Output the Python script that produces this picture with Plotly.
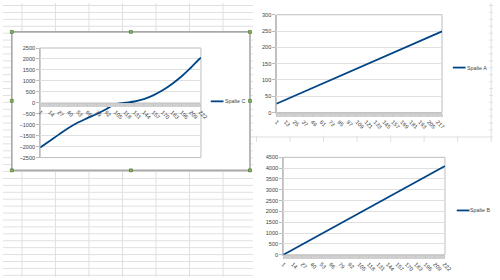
import plotly.graph_objects as go

# ---------------- data ----------------
n_cat = 223
# Spalte C (left chart), sampled at the labelled categories
c_x = [1, 14, 27, 40, 53, 66, 79, 92, 105, 118, 131, 144, 157, 170, 183, 196, 209, 222, 223]
c_y = [-2040, -1740, -1440, -1150, -900, -700, -510, -290, -60, 5, 60, 170, 340, 570, 860, 1200, 1600, 2030, 2045]
c_ticks = [1, 14, 27, 40, 53, 66, 79, 92, 105, 118, 131, 144, 157, 170, 183, 196, 209, 222]

# Spalte A (top right chart)
a_x = [1, 13, 25, 37, 49, 61, 73, 85, 97, 109, 121, 133, 145, 157, 169, 181, 193, 205, 217, 223]
a_y = [27, 39, 51, 63, 75, 87, 99, 111, 123, 135, 147, 159, 171, 183, 195, 207, 219, 231, 243, 249]
a_ticks = [1, 13, 25, 37, 49, 61, 73, 85, 97, 109, 121, 133, 145, 157, 169, 181, 193, 205, 217]

# Spalte B (bottom right chart)
b_x = [1, 14, 27, 40, 53, 66, 79, 92, 105, 118, 131, 144, 157, 170, 183, 196, 209, 222, 223]
b_y = [0, 240, 480, 720, 960, 1200, 1440, 1680, 1920, 2160, 2400, 2640, 2880, 3120, 3360, 3600, 3840, 4080, 4095]
b_ticks = [1, 14, 27, 40, 53, 66, 79, 92, 105, 118, 131, 144, 157, 170, 183, 196, 209, 222]

series_names = ["Spalte C", "Spalte A", "Spalte B"]

# ---------------- styling ----------------
W, H = 500, 280
LINE = "#004586"
TXT = "#444444"
GRID = "#e0e0e0"
BORDER = "#bdbdbd"
SHEET = "#e0e0e0"
FONT = "Liberation Sans"
FS = 5.6


def px(x):
    return x / W


def py(y):
    return 1 - y / H


fig = go.Figure()
fig.add_trace(go.Scatter(x=c_x, y=c_y, mode="lines", line=dict(color=LINE, width=1.8, shape="spline"),
                         name=series_names[0], xaxis="x", yaxis="y", showlegend=False))
fig.add_trace(go.Scatter(x=a_x, y=a_y, mode="lines", line=dict(color=LINE, width=1.8),
                         name=series_names[1], xaxis="x2", yaxis="y2", showlegend=False))
fig.add_trace(go.Scatter(x=b_x, y=b_y, mode="lines", line=dict(color=LINE, width=1.8),
                         name=series_names[2], xaxis="x3", yaxis="y3", showlegend=False))

# plot-area domains (pixel layout)
dom = {
    "": dict(x=(38, 202), y=(46, 158)),
    "2": dict(x=(279, 448), y=(12, 112)),
    "3": dict(x=(286, 451), y=(157.7, 257.3)),
}


def xdom(k):
    a, b = dom[k]["x"]
    return [px(a), px(b)]


def ydom(k):
    a, b = dom[k]["y"]
    return [py(b), py(a)]


tickfont = dict(family=FONT, size=FS, color=TXT)


def xaxis(ticks, k, **kw):
    d = dict(domain=xdom(k), range=[0.999, n_cat], tickmode="array", tickvals=ticks,
             ticktext=[str(t) for t in ticks], tickangle=45, tickfont=tickfont,
             ticklabeloverflow="allow",
             showgrid=False, zeroline=False, showline=True, linecolor="#c8c8c8", linewidth=1.2,
             ticks="outside", ticklen=3, tickcolor="#c8c8c8",
             minor=dict(dtick=1, tick0=1, ticks="outside", ticklen=3, tickcolor="#d0d0d0", tickwidth=1, showgrid=False))
    d.update(kw)
    return d


def yaxis(rng, dt, k, **kw):
    d = dict(domain=ydom(k), range=rng, dtick=dt, tick0=rng[0], tickfont=tickfont,
             showgrid=True, gridcolor=GRID, gridwidth=1, zeroline=False,
             showline=True, linecolor=BORDER, linewidth=1, ticks="outside", ticklen=3,
             tickcolor=BORDER)
    d.update(kw)
    return d


zero_pos = py(dom[""]["y"][0] + (dom[""]["y"][1] - dom[""]["y"][0]) / 2)

fig.update_layout(
    width=W, height=H, margin=dict(l=0, r=0, t=0, b=0),
    paper_bgcolor="white", plot_bgcolor="rgba(0,0,0,0)",
    font=dict(family=FONT, size=FS, color=TXT),
    xaxis=xaxis(c_ticks, "", anchor="free", position=zero_pos),
    yaxis=yaxis([-2500, 2500], 500, "", anchor="x"),
    xaxis2=xaxis(a_ticks, "2", anchor="y2"),
    yaxis2=yaxis([0, 300], 50, "2", anchor="x2"),
    xaxis3=xaxis(b_ticks, "3", anchor="y3"),
    yaxis3=yaxis([0, 4500], 500, "3", anchor="x3"),
)

shapes = []
# spreadsheet cell grid
colw, rowh = 34.2, 7.07
x = 19.3
while x < W:
    shapes.append(dict(type="line", xref="paper", yref="paper", x0=px(x), x1=px(x), y0=0, y1=1,
                       line=dict(color=SHEET, width=1), layer="below"))
    x += colw
y = 2.55
while y < H:
    shapes.append(dict(type="line", xref="paper", yref="paper", x0=0, x1=1, y0=py(y), y1=py(y),
                       line=dict(color=SHEET, width=1), layer="below"))
    y += rowh
# white chart areas
for (x0, y0, x1, y1) in [(9, 29, 252, 171), (255, 0, 496, 135.5), (255, 142, 500, 280)]:
    shapes.append(dict(type="rect", xref="paper", yref="paper", x0=px(x0), x1=px(x1), y0=py(y1), y1=py(y0),
                       fillcolor="white", line=dict(width=0), layer="below"))
# plot area borders
for k in ["", "2", "3"]:
    shapes.append(dict(type="rect", xref=f"x{k} domain", yref=f"y{k} domain", x0=0, x1=1, y0=0, y1=1,
                       line=dict(color=BORDER, width=1), layer="below"))
# selected frame of chart C
shapes.append(dict(type="rect", xref="paper", yref="paper", x0=px(9), x1=px(252), y0=py(171), y1=py(29.5),
                   line=dict(color="#a8a8a8", width=1.6)))
for hx in (9, 130.5, 252):
    for hy in (29.5, 100, 171):
        if hx == 130.5 and hy == 100:
            continue
        shapes.append(dict(type="rect", xref="paper", yref="paper", x0=px(hx - 1.5), x1=px(hx + 1.5),
                           y0=py(hy + 1.5), y1=py(hy - 1.5), fillcolor="#79c24a",
                           line=dict(color="#3b4a2a", width=0.5)))

# legends (line key + label)
annotations = []
for name, (lx, ly) in zip(series_names, [(212, 100.5), (459, 66), (463, 212)]):
    shapes.append(dict(type="line", xref="paper", yref="paper", x0=px(lx), x1=px(lx + 13), y0=py(ly), y1=py(ly),
                       line=dict(color=LINE, width=1.8)))
    annotations.append(dict(xref="paper", yref="paper", x=px(lx + 13), y=py(ly), text=name, showarrow=False,
                            xanchor="left", yanchor="middle", borderpad=0,
                            font=dict(family=FONT, size=5.3, color=TXT)))

fig.update_layout(shapes=shapes, annotations=annotations)
fig.write_html("out.html")
